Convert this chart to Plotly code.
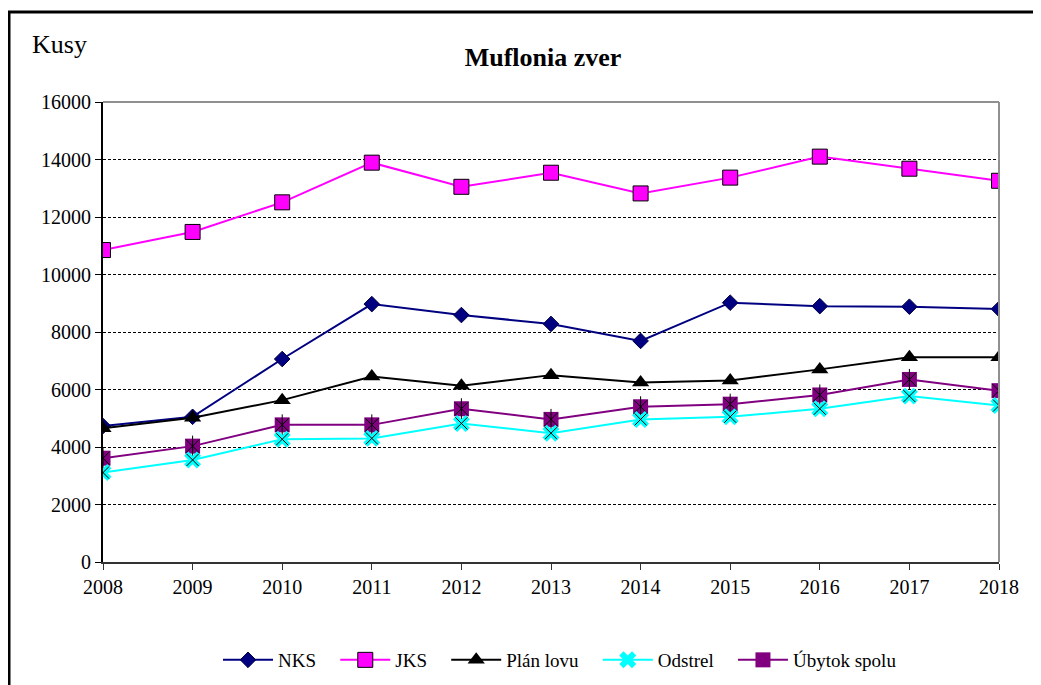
import plotly.graph_objects as go

years = [2008, 2009, 2010, 2011, 2012, 2013, 2014, 2015, 2016, 2017, 2018]
nks = [4730, 5050, 7060, 8970, 8590, 8280, 7690, 9020, 8900, 8880, 8800]
jks = [10850, 11480, 12510, 13890, 13050, 13540, 12820, 13370, 14100, 13680, 13260]
plan_lovu = [4650, 5020, 5630, 6450, 6130, 6500, 6240, 6310, 6700, 7120, 7120]
odstrel = [3110, 3550, 4270, 4300, 4820, 4480, 4960, 5050, 5330, 5770, 5440]
ubytok = [3610, 4030, 4770, 4770, 5330, 4960, 5400, 5490, 5810, 6350, 5960]
y_ticks = [0, 2000, 4000, 6000, 8000, 10000, 12000, 14000, 16000]

FONT = "Liberation Serif, Times New Roman, serif"
PAD = "\u00a0\u00a0\u00a0"

fig = go.Figure()

fig.add_trace(go.Scatter(
    x=years, y=nks, name="NKS" + PAD, mode="lines+markers", legendrank=1,
    line=dict(color="#000080", width=2),
    marker=dict(symbol="diamond", size=12, color="#000080", line=dict(color="#000040", width=1)),
))
fig.add_trace(go.Scatter(
    x=years, y=jks, name="JKS" + PAD, mode="lines+markers", legendrank=2,
    line=dict(color="#FF00FF", width=2),
    marker=dict(symbol="square", size=15, color="#FF00FF", line=dict(color="#000000", width=1)),
))
fig.add_trace(go.Scatter(
    x=years, y=plan_lovu, name="Plán lovu" + PAD, mode="lines+markers", legendrank=3,
    line=dict(color="#000000", width=2),
    marker=dict(symbol="triangle-up", size=15, color="#000000"),
))
fig.add_trace(go.Scatter(
    x=years, y=ubytok, name="Úbytok spolu", mode="lines+markers", legendrank=5,
    line=dict(color="#800080", width=2),
    marker=dict(symbol="square", size=15, color="#800080", line=dict(width=0)),
))
fig.add_trace(go.Scatter(
    x=years, y=ubytok, mode="markers", showlegend=False, hoverinfo="skip",
    marker=dict(symbol="x-thin-open", size=13, color="#000000", line=dict(color="#000000", width=1)),
))
fig.add_trace(go.Scatter(
    x=years, y=ubytok, mode="markers", showlegend=False, hoverinfo="skip",
    marker=dict(symbol="line-ns-open", size=15, color="#000000", line=dict(color="#000000", width=1)),
))
fig.add_trace(go.Scatter(
    x=years, y=odstrel, name="Odstrel" + PAD, mode="lines+markers", legendrank=4,
    line=dict(color="#00FFFF", width=2),
    marker=dict(symbol="x", size=15, color="#00FFFF", line=dict(width=0)),
))
fig.add_trace(go.Scatter(
    x=years, y=odstrel, mode="markers", showlegend=False, hoverinfo="skip",
    marker=dict(symbol="x-thin-open", size=12, color="#000000", line=dict(color="#000000", width=1)),
))

# page body has an 8px margin; positions below are reference pixels minus 8
OFF = 8
W, H = 1041 - OFF, 685 - OFF
L, T = 103 - OFF, 102 - OFF
pw, ph = 896, 460
R = W - L - pw
B = H - T - ph

def px_x(p):
    return (p - OFF - L) / pw

def px_y(p):
    return (T + ph - (p - OFF)) / ph

fig.update_layout(
    width=W, height=H,
    margin=dict(l=L, r=R, t=T, b=B),
    paper_bgcolor="white", plot_bgcolor="white",
    font=dict(family=FONT, color="#000000", size=20),
    title=dict(text="<b>Muflonia zver</b>", x=(543 - OFF) / W, xanchor="center",
               y=1 - (57 - OFF) / H, yanchor="middle", font=dict(size=26, family=FONT)),
    showlegend=True,
    legend=dict(orientation="h", x=(560 - OFF) / W, xanchor="center", xref="container",
                y=1 - (660 - OFF) / H, yref="container", yanchor="middle",
                font=dict(size=19, family=FONT), itemwidth=50,
                traceorder="normal"),
    xaxis=dict(range=[2008, 2018], tickvals=years, ticktext=[str(y) for y in years],
               showgrid=False, zeroline=False, showline=True, linecolor="#333333", linewidth=2,
               ticks="outside", ticklen=6, tickcolor="#333333", tickwidth=1,
               tickfont=dict(size=20, family=FONT)),
    yaxis=dict(range=[0, 16000], tickvals=y_ticks, tickformat="d",
               showgrid=True, gridcolor="#000000", gridwidth=1, griddash="3px,2px",
               zeroline=False, showline=True, linecolor="#000000", linewidth=2,
               ticks="outside", ticklen=6, tickcolor="#000000", tickwidth=1,
               tickfont=dict(size=20, family=FONT)),
    annotations=[dict(text="Kusy", xref="paper", yref="paper", x=px_x(30), y=px_y(45),
                      xanchor="left", yanchor="middle", showarrow=False,
                      font=dict(size=26, family=FONT))],
    shapes=[
        dict(type="line", xref="paper", yref="paper", x0=0, x1=1, y0=1, y1=1,
             line=dict(color="#909090", width=2), layer="above"),
        dict(type="line", xref="paper", yref="paper", x0=1, x1=1, y0=0, y1=1,
             line=dict(color="#909090", width=2), layer="above"),
        dict(type="rect", xref="paper", yref="paper", x0=px_x(9), x1=px_x(1060),
             y0=px_y(710), y1=px_y(12), line=dict(color="#000000", width=3),
             fillcolor="rgba(0,0,0,0)", layer="above"),
    ],
)

fig.write_html("out.html")
